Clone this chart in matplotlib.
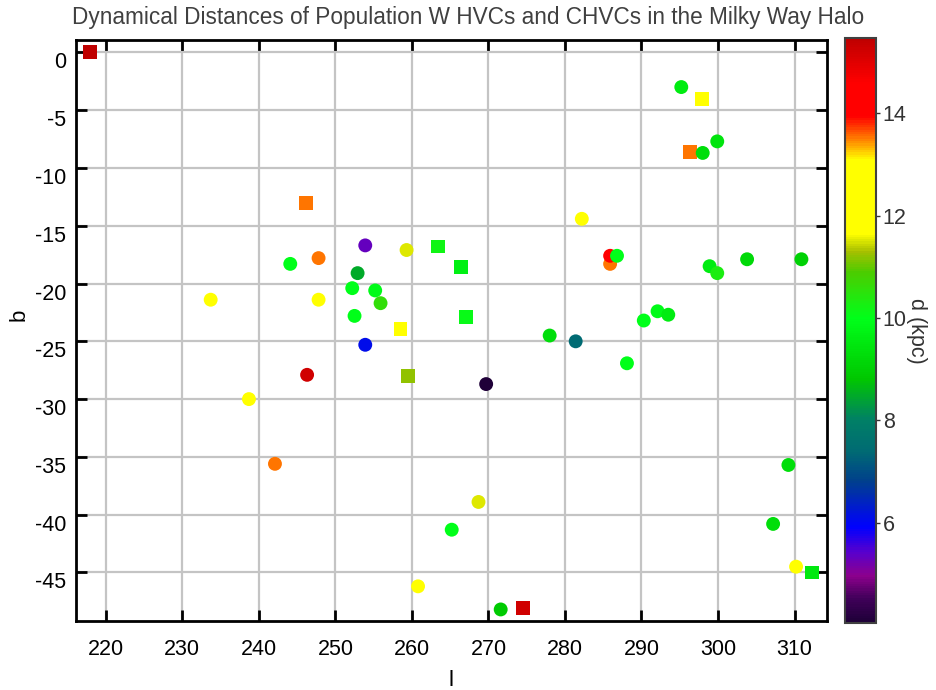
import matplotlib
matplotlib.use('Agg')
import matplotlib.pyplot as plt
import matplotlib.transforms as mtransforms
from matplotlib.colors import LinearSegmentedColormap, Normalize

plt.rcParams['font.family'] = ['Liberation Sans', 'DejaVu Sans']
plt.rcParams['axes.unicode_minus'] = False

# circles (population W HVCs)
circle_l = [253.9, 247.8, 244.1, 259.3, 252.9, 252.2, 255.2, 255.9, 233.7, 247.8,
            252.5, 253.9, 246.3, 238.7, 242.1, 265.2, 260.8, 295.2, 299.9, 298.0,
            282.2, 285.9, 285.9, 286.8, 298.9, 299.9, 303.8, 310.9, 290.3, 292.1,
            293.5, 278.0, 281.4, 288.1, 269.7, 268.7, 309.2, 307.2, 310.2, 271.6]
circle_b = [-16.7, -17.8, -18.3, -17.1, -19.1, -20.4, -20.6, -21.7, -21.4, -21.4,
            -22.8, -25.3, -27.9, -30.0, -35.6, -41.3, -46.2, -3.0, -7.7, -8.7,
            -14.4, -18.3, -17.6, -17.6, -18.5, -19.1, -17.9, -17.9, -23.2, -22.4,
            -22.7, -24.5, -25.0, -26.9, -28.7, -38.9, -35.7, -40.8, -44.5, -48.2]
circle_d = [5.3, 13.5, 10.0, 11.5, 8.5, 10.0, 9.9, 10.6, 12.3, 12.3,
            10.0, 6.1, 15.2, 12.4, 13.5, 10.0, 12.5, 9.6, 9.4, 9.3,
            12.4, 13.5, 14.3, 10.0, 9.6, 10.3, 9.2, 9.0, 10.0, 9.9,
            9.6, 9.3, 7.4, 10.0, 4.05, 11.5, 9.3, 9.3, 12.4, 8.9]

# squares (CHVCs)
square_l = [217.9, 246.1, 263.4, 266.4, 258.5, 267.1, 259.5, 297.9, 296.3, 312.3, 274.5]
square_b = [0.0, -13.0, -16.8, -18.6, -23.9, -22.9, -28.0, -4.0, -8.6, -45.0, -48.1]
square_d = [15.46, 13.5, 10.2, 9.7, 12.5, 10.1, 11.2, 12.5, 13.5, 9.5, 15.2]

xticks = [220, 230, 240, 250, 260, 270, 280, 290, 300, 310]
yticks = [0, -5, -10, -15, -20, -25, -30, -35, -40, -45]
cbar_ticks = [6, 8, 10, 12, 14]

dmin = min(circle_d + square_d)
dmax = max(circle_d + square_d)

# colour map (d value, colour)
anchors = [
    (4.05, (0.12, 0.0, 0.22)),
    (4.5, (0.25, 0.0, 0.35)),
    (4.95, (0.55, 0.0, 0.55)),
    (5.4, (0.35, 0.0, 0.8)),
    (5.9, (0.0, 0.0, 1.0)),
    (6.8, (0.0, 0.25, 0.55)),
    (7.4, (0.0, 0.42, 0.45)),
    (8.0, (0.0, 0.5, 0.4)),
    (8.8, (0.0, 0.78, 0.0)),
    (10.0, (0.0, 1.0, 0.1)),
    (10.9, (0.3, 0.8, 0.0)),
    (11.3, (0.65, 0.75, 0.0)),
    (11.65, (1.0, 1.0, 0.0)),
    (13.1, (1.0, 1.0, 0.0)),
    (13.5, (1.0, 0.5, 0.0)),
    (13.95, (1.0, 0.0, 0.0)),
    (14.6, (1.0, 0.0, 0.0)),
    (15.46, (0.75, 0.0, 0.0)),
]
cmap = LinearSegmentedColormap.from_list(
    'hvc', [((v - dmin) / (dmax - dmin), c) for v, c in anchors])
norm = Normalize(vmin=dmin, vmax=dmax)

fig = plt.figure(figsize=(9.36, 6.9), dpi=100)
ax = fig.add_axes([0.0812, 0.1, 0.802, 0.842])
cax = fig.add_axes([0.9028, 0.0975, 0.0328, 0.847])

ax.scatter(square_l, square_b, c=square_d, cmap=cmap, norm=norm, marker='s',
           s=100, linewidths=0, zorder=3)
sc = ax.scatter(circle_l, circle_b, c=circle_d, cmap=cmap, norm=norm, marker='o',
                s=100, linewidths=0, zorder=4)

ax.set_xlim(216.1, 314.2)
ax.set_ylim(-49.2, 1.07)
ax.set_xticks(xticks)
ax.set_yticks(yticks)
ax.grid(True, color='#c4c4c4', linewidth=1.6, zorder=0)
ax.set_axisbelow(True)
for sp in ax.spines.values():
    sp.set_linewidth(2)
ax.tick_params(direction='in', length=8, width=2, top=True, right=True,
               labelsize=15.5, colors='black')
ax.tick_params(axis='x', pad=13)
ax.tick_params(axis='y', pad=7)

# y tick labels sit a little below their ticks in the reference
shift = mtransforms.ScaledTranslation(0, -0.08, fig.dpi_scale_trans)
for lab in ax.get_yticklabels():
    lab.set_transform(lab.get_transform() + shift)

ax.set_xlabel('l', fontsize=16)
ax.set_ylabel('b', fontsize=16)
ax.xaxis.set_label_coords(0.5, -0.085)
ax.yaxis.set_label_coords(-0.062, 0.527)

fig.text(0.5, 0.975, 'Dynamical Distances of Population W HVCs and CHVCs in the Milky Way Halo',
         ha='center', va='center', fontsize=16.3, color='#404040')

cbar = fig.colorbar(sc, cax=cax, ticks=cbar_ticks)
cbar.outline.set_edgecolor('#404040')
cbar.outline.set_linewidth(1.5)
cbar.ax.tick_params(direction='out', length=3, width=1, colors='#333333',
                    labelsize=15.5, pad=2)
cbar.set_label('d (kpc)', rotation=270, fontsize=15.5, color='#333333', labelpad=15)

fig.savefig('out.png', dpi=100)
